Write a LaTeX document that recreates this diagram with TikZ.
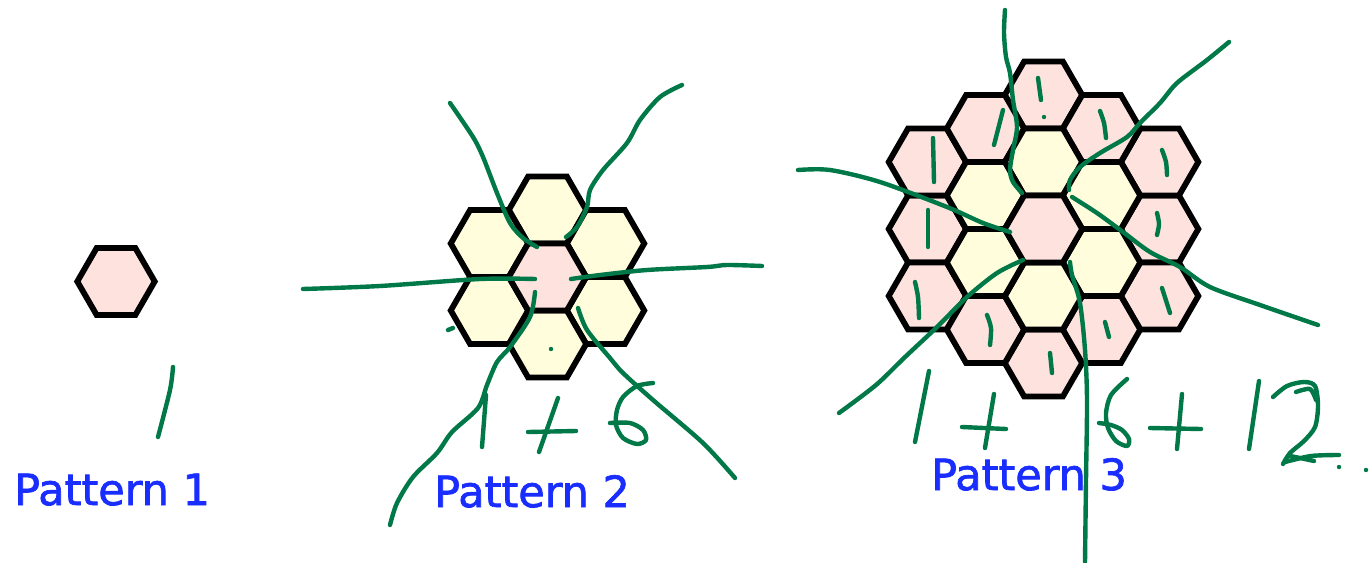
\documentclass[tikz,border=0pt]{standalone}
\usepackage{fontspec}
\newfontfamily\labelfont[FakeBold=1.6]{DejaVu Sans}
\definecolor{hpink}{RGB}{253,226,222}
\definecolor{hyellow}{RGB}{255,253,220}
\definecolor{pen}{RGB}{0,120,72}
\definecolor{lblue}{RGB}{25,45,255}
\tikzset{
  hexline/.style={draw=black,line width=5.8pt,line join=miter},
  penline/.style={draw=pen,line width=4.4pt,line cap=round,line join=round},
  patlabel/.style={font=\labelfont\fontsize{43}{50}\selectfont,text=lblue,inner sep=0pt,anchor=base west},
}
\newcommand{\hexcell}[3]{%
  \draw[hexline,fill=#3] (#1,#2) +(-38.7,0) -- +(-19.35,-33.5) -- +(19.35,-33.5) -- +(38.7,0) -- +(19.35,33.5) -- +(-19.35,33.5) -- cycle;}
\begin{document}
\begin{tikzpicture}[x=1pt,y=-1pt]
\useasboundingbox[fill=white] (0,0) rectangle (1370,562);

% ---------- Pattern 1
\hexcell{116}{281.5}{hpink}

% ---------- Pattern 2 (centre 547.5,277)
\foreach \dx/\dy in {0/-67,58.05/-33.5,58.05/33.5,0/67,-58.05/33.5,-58.05/-33.5}{
  \hexcell{547.5+\dx}{277+\dy}{hyellow}}
\hexcell{547.5}{277}{hpink}

% ---------- Pattern 3 (centre 1043.5,229)
\foreach \dx/\dy in {0/-134,0/134,116.1/0,-116.1/0,116.1/-67,116.1/67,-116.1/-67,-116.1/67,58.05/-100.5,58.05/100.5,-58.05/-100.5,-58.05/100.5}{
  \hexcell{1043.5+\dx}{229+\dy}{hpink}}
\foreach \dx/\dy in {0/-67,58.05/-33.5,58.05/33.5,0/67,-58.05/33.5,-58.05/-33.5}{
  \hexcell{1043.5+\dx}{229+\dy}{hyellow}}
\hexcell{1043.5}{229}{hpink}

% ---------- labels
\node[patlabel] (l1) at (14,505) {Pattern 1};
\node[patlabel] (l2) at (434,507) {Pattern 2};
\node[patlabel] (l3) at (931,490) {Pattern 3};

% ---------- handwriting: pattern 1
\draw[penline] plot[smooth] coordinates {(173,367) (170,390) (158,437)};

% ---------- handwriting: pattern 2
\draw[penline] plot[smooth] coordinates {(450,103) (473,137) (483,157) (497,193) (510,223) (523,238) (537,247)};
\draw[penline] plot[smooth] coordinates {(682,85) (660,97) (640,120) (627,143) (603,170) (590,190) (587,207) (577,227) (566,237)};
\draw[penline] plot[smooth] coordinates {(303,289) (380,286) (480,279) (535,279)};
\draw[penline] plot[smooth] coordinates {(571,279) (600,275) (647,270) (707,267) (727,265) (762,266)};
\draw[penline] plot[smooth] coordinates {(535,292) (530,317) (510,347) (497,362) (487,385) (478,408) (452,432) (437,453) (413,477) (397,503) (390,525)};
\draw[penline] plot[smooth] coordinates {(578,308) (587,330) (610,358) (623,373) (653,400) (703,443) (735,478)};
\draw[penline] (448,330) -- (453,328);
\fill[pen] (551,349) circle (2.2pt);
% 1 + 6
\draw[penline] (486,395) -- (482,447);
\draw[penline] (528,432) -- (576,431);
\draw[penline] (558,398) -- (539,452);
\draw[penline] plot[smooth] coordinates {(653,383) (637,386) (623,397) (617,410) (616,425) (623,438) (637,444) (646,440) (643,430) (630,423) (610,423)};

% ---------- handwriting: pattern 3
\draw[penline] plot[smooth] coordinates {(1005,10) (1004,33) (1006,57) (1010,73) (1013,100) (1017,127) (1013,150) (1010,170) (1013,182) (1022,193)};
\draw[penline] plot[smooth] coordinates {(1229,42) (1207,60) (1183,78) (1173,87) (1160,103) (1140,123) (1127,137) (1100,153) (1080,167) (1070,180) (1069,190)};
\draw[penline] plot[smooth] coordinates {(798,170) (830,170) (880,182) (947,207) (983,223) (1010,232)};
\draw[penline] plot[smooth] coordinates {(1072,197) (1097,213) (1123,232) (1150,252) (1180,267) (1210,287) (1260,305) (1318,325)};
\draw[penline] plot[smooth] coordinates {(1023,260) (997,273) (967,297) (937,327) (904,358) (876,385) (839,413)};
\draw[penline] plot[smooth] coordinates {(1070,262) (1072,275) (1080,303) (1085,350) (1087,400) (1086,480) (1085,562)};
% ones in the outer ring
\draw[penline] (1038,78) -- (1041,100);
\fill[pen] (1044,117) circle (2.2pt);
\draw[penline] (1003,110) -- (994,145);
\draw[penline] plot[smooth] coordinates {(1100,111) (1104,123) (1106,138)};
\draw[penline] (933,138) -- (934,182);
\draw[penline] plot[smooth] coordinates {(1162,150) (1166,162) (1167,175)};
\draw[penline] (928,210) -- (928,247);
\draw[penline] plot[smooth] coordinates {(1157,213) (1159,224) (1157,235)};
\draw[penline] plot[smooth] coordinates {(915,282) (918,297) (919,318)};
\draw[penline] (1162,288) -- (1170,313);
\draw[penline] plot[smooth] coordinates {(987,315) (991,328) (990,345)};
\draw[penline] (1105,322) -- (1109,337);
\draw[penline] (1050,353) -- (1052,373);
% 1 + 6 + 12..
\draw[penline] (929,371) -- (915,442);
\draw[penline] (962,427) -- (1006,429);
\draw[penline] (994,394) -- (985,448);
\draw[penline] plot[smooth] coordinates {(1127,379) (1111,395) (1106,413) (1108,428) (1116,441) (1127,446) (1129,439) (1122,430) (1111,425) (1099,423)};
\draw[penline] (1150,428) -- (1201,429);
\draw[penline] (1182,394) -- (1177,449);
\draw[penline] (1259,381) -- (1249,449);
\draw[penline] plot[smooth] coordinates {(1273,397) (1287,386) (1304,382) (1315,386) (1318,406) (1315,427) (1304,441) (1290,453) (1283,464)};
\draw[penline] plot[smooth] coordinates {(1285,462) (1311,456) (1339,455)};
\draw[penline] plot[smooth] coordinates {(1296,392) (1310,389) (1316,400)};
\draw[penline] plot[smooth] coordinates {(1290,456) (1300,458) (1314,461)};
\fill[pen] (1339,467) circle (2.2pt);
\fill[pen] (1366,470) circle (2.2pt);
\end{tikzpicture}
\end{document}
